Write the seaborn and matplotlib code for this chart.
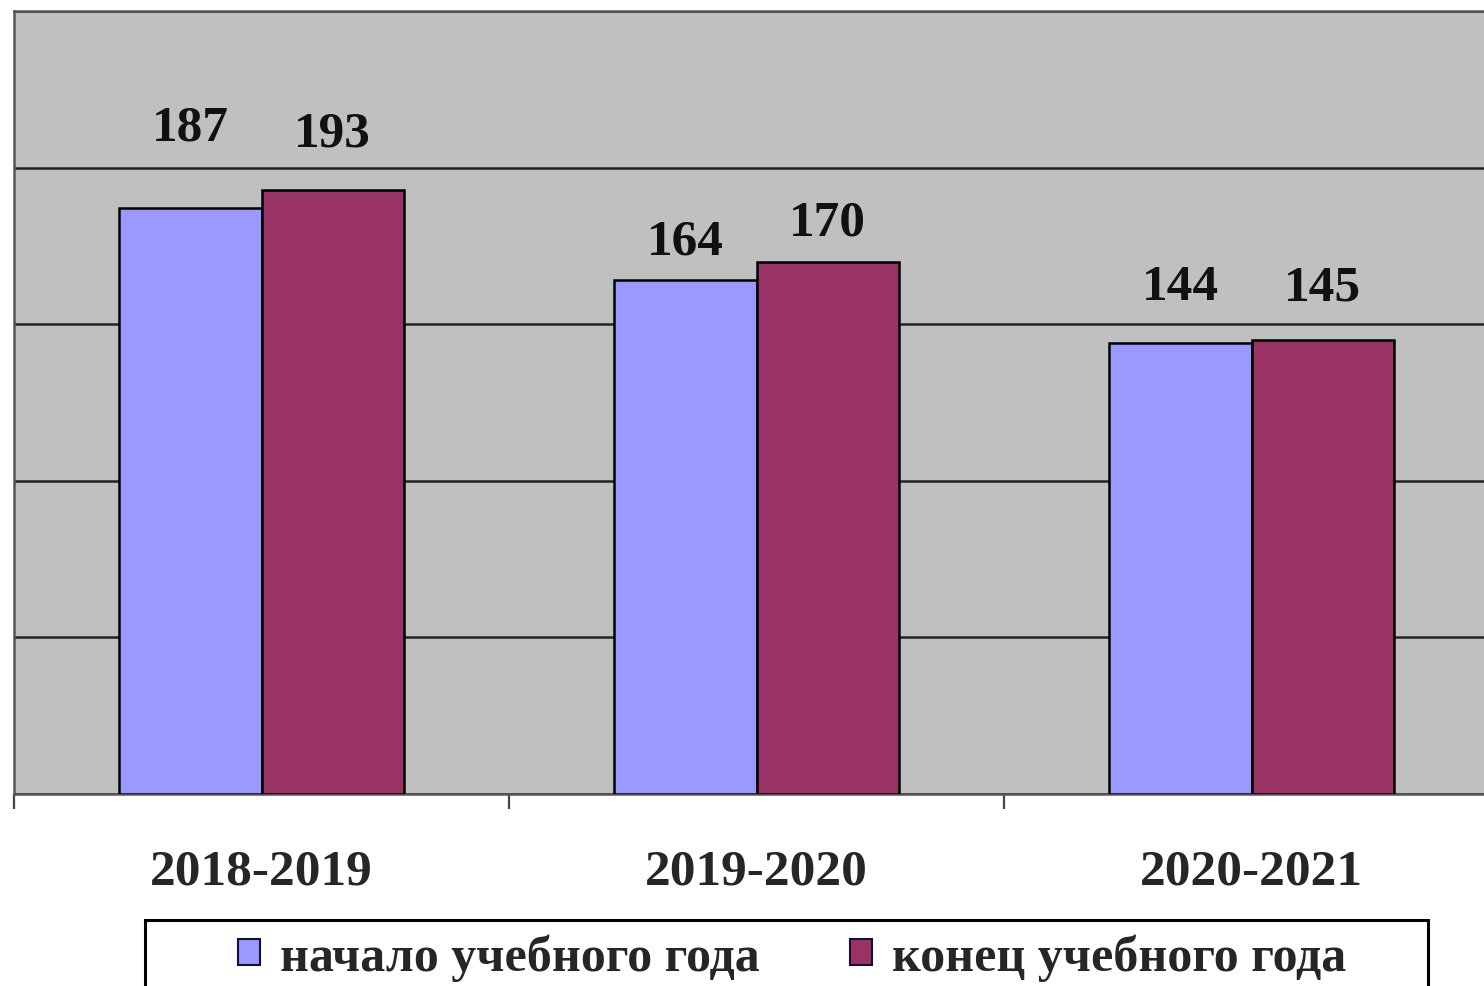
import matplotlib
matplotlib.use('Agg')
import matplotlib.pyplot as plt
import matplotlib.patches as mpatches
from matplotlib.ticker import FixedLocator, MultipleLocator
import seaborn as sns
import pandas as pd

# ---------- данные ----------
years = ['2018-2019', '2019-2020', '2020-2021']
series_names = ['начало учебного года', 'конец учебного года']
start_vals = [187, 164, 144]
end_vals = [193, 170, 145]

# смещения подписей (в пунктах), подписи в оригинале расставлены вручную
label_offsets = [[58, 28, 40], [40, 28, 38]]

colors = ['#9999FF', '#993366']

df = pd.DataFrame({
    'Год': years * 2,
    'Серия': [series_names[0]] * 3 + [series_names[1]] * 3,
    'Значение': start_vals + end_vals,
})

sns.set_style('white')
plt.rcParams['font.family'] = ['Liberation Serif', 'DejaVu Serif']
plt.rcParams['font.weight'] = 'bold'

W, H = 1484, 987
fig = plt.figure(figsize=(W / 100, H / 100), dpi=100)
ax = fig.add_axes([14 / W, 1 - 795 / H, (1499 - 14) / W, (795 - 12) / H])
ax.set_facecolor('#C0C0C0')

sns.barplot(data=df, x='Год', y='Значение', hue='Серия', palette=colors,
            width=0.575, edgecolor='black', linewidth=1.8, saturation=1,
            ax=ax, zorder=3, legend=False)

ax.set_xlim(-0.5, 2.5)
ax.set_ylim(0, 250)
ax.yaxis.set_major_locator(MultipleLocator(50))
ax.grid(True, axis='y', color='#222222', linewidth=1.8, zorder=0)
ax.set_axisbelow(True)
ax.set_yticklabels([])
ax.tick_params(axis='y', length=0)

ax.xaxis.set_minor_locator(FixedLocator([-0.5, 0.5, 1.5, 2.5]))
ax.tick_params(axis='x', which='major', length=0, pad=39, labelsize=37)
ax.tick_params(axis='x', which='minor', length=11, width=1.6, color='#444444',
               direction='out', bottom=True)
for lbl in ax.get_xticklabels():
    lbl.set_fontweight('bold')
ax.set_xlabel('')
ax.set_ylabel('')

for sp in ['left', 'top', 'right', 'bottom']:
    ax.spines[sp].set_color('#555555')
    ax.spines[sp].set_linewidth(1.8)

# подписи значений
for cont, offs in zip(ax.containers, label_offsets):
    for bar, off in zip(cont, offs):
        ax.annotate(f'{int(bar.get_height())}',
                    (bar.get_x() + bar.get_width() / 2, bar.get_height()),
                    xytext=(0, off), textcoords='offset points',
                    ha='center', va='center', fontsize=37, fontweight='bold',
                    color='#111111')

# рамка легенды
box = mpatches.Rectangle((145 / W, 1 - 1000 / H), (1428 - 145) / W, (1000 - 921) / H,
                         transform=fig.transFigure, facecolor='white',
                         edgecolor='black', linewidth=2.2, zorder=1)
fig.patches.append(box)

handles = [mpatches.Patch(facecolor=c, edgecolor='#111133', linewidth=1.5) for c in colors]
leg = fig.legend(handles, series_names, loc='center',
                 bbox_to_anchor=(792 / W, 1 - 958 / H), ncol=2, frameon=False,
                 handlelength=0.45, handleheight=0.45,
                 handletextpad=0.4, columnspacing=1.8, borderpad=0.1,
                 prop={'weight': 'bold', 'size': 36})
leg.set_zorder(2)

fig.savefig('out.png', dpi=100)
